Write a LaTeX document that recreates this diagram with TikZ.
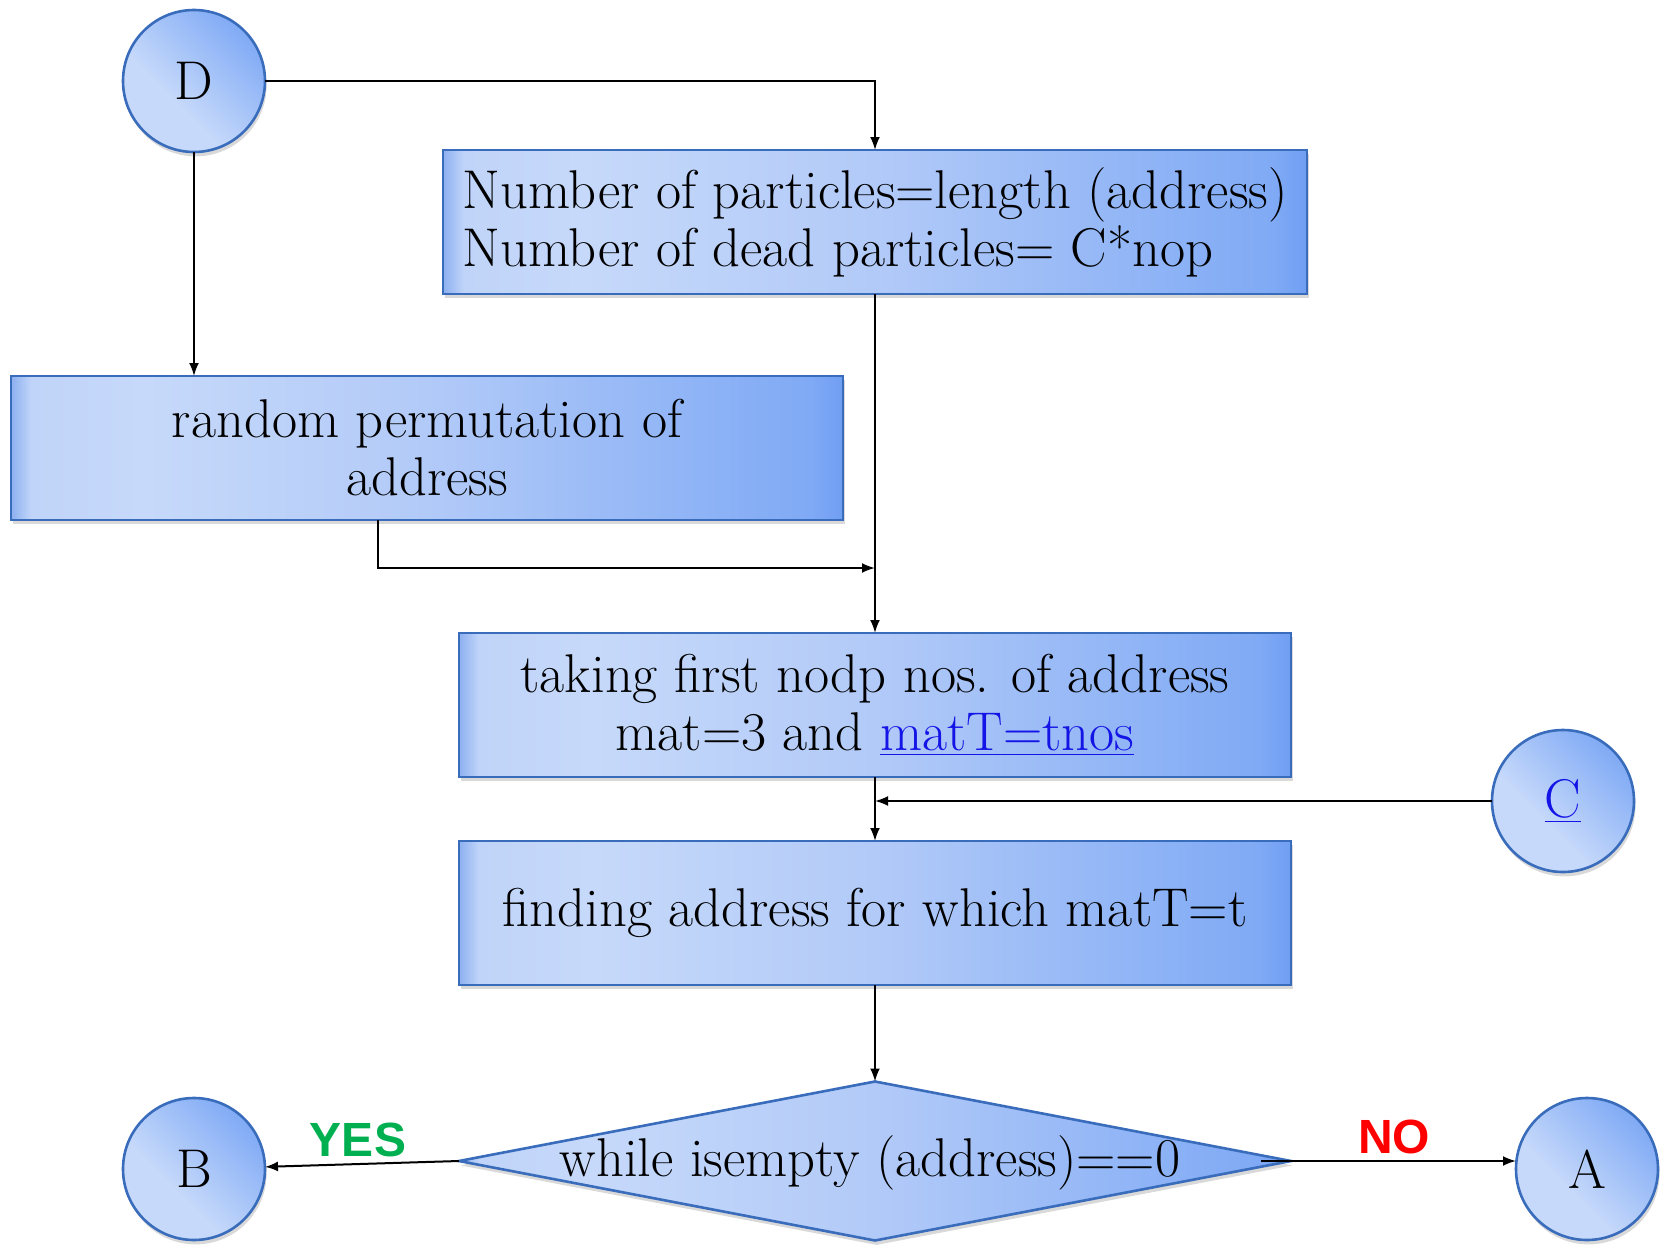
\documentclass[tikz,border=0pt]{standalone}
\usepackage{fontspec}
\newfontfamily\tagfont{Liberation Sans}
\usetikzlibrary{shapes.geometric,shadows,arrows.meta}

\definecolor{edgeblue}{RGB}{58,108,188}
\definecolor{sh0}{RGB}{140,176,240}
\definecolor{sh1}{RGB}{192,212,249}
\definecolor{sh2}{RGB}{198,217,250}
\definecolor{sh3}{RGB}{178,202,248}
\definecolor{sh4}{RGB}{128,170,245}
\definecolor{sh5}{RGB}{112,158,242}
\definecolor{yesgreen}{RGB}{0,176,80}
\definecolor{nored}{RGB}{255,0,0}
\definecolor{linkblue}{RGB}{20,20,230}

% left-to-right fill of the process boxes and the decision
\pgfdeclarehorizontalshading{boxshade}{100bp}{color(0bp)=(sh0); color(25bp)=(sh0); color(26.2bp)=(sh1); color(33bp)=(sh2); color(50bp)=(sh3); color(73bp)=(sh4); color(75bp)=(sh5); color(100bp)=(sh5)}
% fill of the connector discs (rotated with shading angle)
\pgfdeclarehorizontalshading{discshade}{100bp}{color(0bp)=(sh2); color(25bp)=(sh2); color(40bp)=(sh2); color(75bp)=(sh4); color(100bp)=(sh4)}

\tikzset{
  x=0.5pt, y=0.5pt,
  txt/.style={font=\fontsize{27.3pt}{29pt}\selectfont},
  base/.style={txt, draw=edgeblue, line width=1.3pt, outer sep=0pt, inner sep=0pt,
    drop shadow={shadow xshift=0.8pt, shadow yshift=-2.2pt, opacity=0.3}},
  procbox/.style={base, rectangle, shade, shading=boxshade, minimum height=72pt},
  disc/.style={base, circle, shade, shading=discshade, shading angle=45, minimum size=71pt},
  decision/.style={base, diamond, shade, shading=boxshade, minimum width=416pt, minimum height=79.5pt},
  arr/.style={line width=1pt, -{Latex[length=6.5pt,width=5pt]}},
  tag/.style={font=\tagfont\bfseries\fontsize{24pt}{28pt}\selectfont},
}

\begin{document}
\begin{tikzpicture}
\useasboundingbox (0,0) rectangle (1662,-1253);

% process steps
\node[procbox, minimum width=432pt, align=left] (num) at (875,-222)
  {Number of particles=length (address)\\Number of dead particles= C*nop};
\node[procbox, minimum width=416pt, align=center] (perm) at (427,-448)
  {random permutation of\\address};
\node[procbox, minimum width=416pt, align=center] (nodp) at (875,-705)
  {taking first nodp nos. of address\\mat=3 and \textcolor{linkblue}{\underline{matT=tnos}}};
\node[procbox, minimum width=416pt] (find) at (875,-913)
  {finding address for which matT=t};

% loop test
\node[decision] (cond) at (875,-1161) {};
\node[txt] (condtext) at (870,-1163) {while isempty (address)==0};

% off-page connectors
\node[disc] (D) at (194,-81) {D};
\node[disc] (B) at (194,-1169) {B};
\node[disc] (A) at (1587,-1169) {A};
\node[disc] (C) at (1563,-801) {\textcolor{linkblue}{\underline{C}}};

\coordinate (join) at (875,-568);

% flow
\draw[arr] (D.east) -| (num.north);
\draw[arr] (D.south) -- (D.south |- perm.north);
\draw[arr] ([xshift=-24.5pt]perm.south) |- (join);
\draw[arr] (num.south) -- (nodp.north);
\draw[arr] (nodp.south) -- (find.north);
\draw[arr] (C.west) -- (C.west -| nodp.south);
\draw[arr] (find.south) -- (cond.north);
\draw[arr] (cond.west) -- (B);
\draw[arr] ([xshift=-15pt]cond.east) -- (A.west |- cond.east);

% branch labels
\node[tag, text=yesgreen] (yes) at (358,-1140) {YES};
\node[tag, text=nored] (no) at (1394,-1137) {NO};
\end{tikzpicture}
\end{document}
